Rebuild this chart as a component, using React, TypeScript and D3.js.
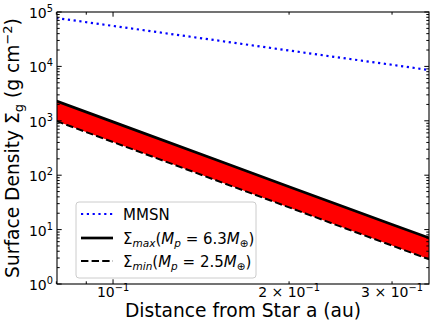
import React from "react";
import * as d3 from "d3";

// values (log-log)
const distance = [0.08, 0.1, 0.15, 0.2, 0.25, 0.3, 0.35];
const mmsn = [77600, 55500, 30200, 19600, 14000, 10700, 8480];
const sigmaMax = [2310, 955, 192, 61.5, 25.4, 12.4, 6.8];
const sigmaMin = [991, 407, 80.6, 25.6, 10.5, 5.08, 2.75];

const yExponents = [0, 1, 2, 3, 4, 5];
const xMajorTicks = [0.1];
const xMinorTicks = [0.08, 0.09, 0.2, 0.3];
const xLabelTicks = [0.1, 0.2, 0.3];
const xLabelPrefix = ["", "2 × ", "3 × "];

const width = 436;
const height = 327;
const marginLeft = 57;
const marginRight = 7;
const marginTop = 12;
const marginBottom = 43;
const font = "DejaVu Sans, sans-serif";

export default function App() {
  const x = d3.scaleLog().domain([0.0802, 0.347]).range([marginLeft, width - marginRight]);
  const y = d3.scaleLog().domain([1, 1e5]).range([height - marginBottom, marginTop]);

  const pts = distance.map((d, i) => ({ d, mm: mmsn[i], hi: sigmaMax[i], lo: sigmaMin[i] }));
  const lineOf = (key: "mm" | "hi" | "lo") =>
    d3.line<any>().x(p => x(p.d)).y(p => y(p[key]))(pts) as string;
  const band = d3.area<any>().x(p => x(p.d)).y0(p => y(p.lo)).y1(p => y(p.hi))(pts) as string;

  const x0 = marginLeft, x1 = width - marginRight;
  const y0 = height - marginBottom, y1 = marginTop;
  const major = 4.7, minor = 2.7;

  // minor y ticks 2..9 in every decade
  const yMinor: number[] = [];
  yExponents.slice(0, -1).forEach(e => {
    for (let k = 2; k <= 9; k++) yMinor.push(k * Math.pow(10, e));
  });

  const lx = 76, ly = 202, lw = 180, lh = 76;
  const rows = [ly + 12, ly + 36, ly + 59];

  return (
    <svg width={width} height={height} style={{ position: "absolute", left: 0, top: 0 }} fontFamily={font}>
      <defs>
        <clipPath id="plot">
          <rect x={x0} y={y1} width={x1 - x0} height={y0 - y1} />
        </clipPath>
      </defs>
      <rect width={width} height={height} fill="white" />

      <g clipPath="url(#plot)">
        <path d={band} fill="#ff0000" />
        <path d={lineOf("hi")} fill="none" stroke="black" strokeWidth={2.7} />
        <path d={lineOf("lo")} fill="none" stroke="black" strokeWidth={2} strokeDasharray="7.4,3.2" />
        <path d={lineOf("mm")} fill="none" stroke="#0000ff" strokeWidth={2.2} strokeDasharray="2.2,3.6" />
      </g>

      {/* ticks, inward on all four sides */}
      <g stroke="black" strokeWidth={1}>
        {yExponents.map(e => {
          const v = y(Math.pow(10, e));
          return (
            <g key={"ym" + e}>
              <line x1={x0} x2={x0 + major} y1={v} y2={v} />
              <line x1={x1} x2={x1 - major} y1={v} y2={v} />
            </g>
          );
        })}
        {yMinor.map(t => {
          const v = y(t);
          return (
            <g key={"yn" + t}>
              <line x1={x0} x2={x0 + minor} y1={v} y2={v} />
              <line x1={x1} x2={x1 - minor} y1={v} y2={v} />
            </g>
          );
        })}
        {xMajorTicks.map(t => (
          <g key={"xm" + t}>
            <line x1={x(t)} x2={x(t)} y1={y0} y2={y0 - major} />
            <line x1={x(t)} x2={x(t)} y1={y1} y2={y1 + major} />
          </g>
        ))}
        {xMinorTicks.map(t => (
          <g key={"xn" + t}>
            <line x1={x(t)} x2={x(t)} y1={y0} y2={y0 - minor} />
            <line x1={x(t)} x2={x(t)} y1={y1} y2={y1 + minor} />
          </g>
        ))}
      </g>
      <rect x={x0} y={y1} width={x1 - x0} height={y0 - y1} fill="none" stroke="black" strokeWidth={1.1} />

      {/* y tick labels */}
      <g fontSize={14} fill="black" textAnchor="end">
        {yExponents.map(e => (
          <text key={e} x={x0 - 4} y={y(Math.pow(10, e)) + 6}>
            10<tspan fontSize={9.8} dy={-6}>{e}</tspan>
          </text>
        ))}
      </g>

      {/* x tick labels */}
      <g fontSize={14} fill="black" textAnchor="middle">
        {xLabelTicks.map((t, i) => (
          <text key={t} x={x(t)} y={y0 + 13}>
            {xLabelPrefix[i]}10<tspan fontSize={9.8} dy={-6}>−1</tspan>
          </text>
        ))}
      </g>

      <text x={(x0 + x1) / 2} y={317} fontSize={18.67} textAnchor="middle">
        Distance from Star a (au)
      </text>
      <text transform={`translate(19,${(y0 + y1) / 2}) rotate(-90)`} fontSize={18.67} textAnchor="middle">
        Surface Density Σ<tspan fontSize={13} dy={4}>g</tspan>
        <tspan dy={-4}> (g cm</tspan>
        <tspan fontSize={13} dy={-7}>−2</tspan>
        <tspan dy={7}>)</tspan>
      </text>

      {/* legend */}
      <rect x={lx} y={ly} width={lw} height={lh} rx={3} fill="white" fillOpacity={0.8} stroke="#cccccc" strokeWidth={1} />
      <line x1={81} x2={113} y1={rows[0]} y2={rows[0]} stroke="#0000ff" strokeWidth={2.2} strokeDasharray="2.2,3.6" />
      <line x1={81} x2={113} y1={rows[1]} y2={rows[1]} stroke="black" strokeWidth={2.7} />
      <line x1={81} x2={113} y1={rows[2]} y2={rows[2]} stroke="black" strokeWidth={2} strokeDasharray="7.4,3.2" />
      <g fontSize={15} fill="black">
        <text x={123} y={rows[0] + 5.5}>MMSN</text>
        <text x={123} y={rows[1] + 5.5}>
          Σ<tspan fontSize={10.5} fontStyle="italic" dy={3}>max</tspan>
          <tspan dy={-3}>(</tspan>
          <tspan fontStyle="italic">M</tspan>
          <tspan fontSize={10.5} fontStyle="italic" dy={3}>p</tspan>
          <tspan dy={-3}> = 6.3</tspan>
          <tspan fontStyle="italic">M</tspan>
          <tspan fontSize={10.5} dy={3}>⊕</tspan>
          <tspan dy={-3}>)</tspan>
        </text>
        <text x={123} y={rows[2] + 5.5}>
          Σ<tspan fontSize={10.5} fontStyle="italic" dy={3}>min</tspan>
          <tspan dy={-3}>(</tspan>
          <tspan fontStyle="italic">M</tspan>
          <tspan fontSize={10.5} fontStyle="italic" dy={3}>p</tspan>
          <tspan dy={-3}> = 2.5</tspan>
          <tspan fontStyle="italic">M</tspan>
          <tspan fontSize={10.5} dy={3}>⊕</tspan>
          <tspan dy={-3}>)</tspan>
        </text>
      </g>
    </svg>
  );
}
